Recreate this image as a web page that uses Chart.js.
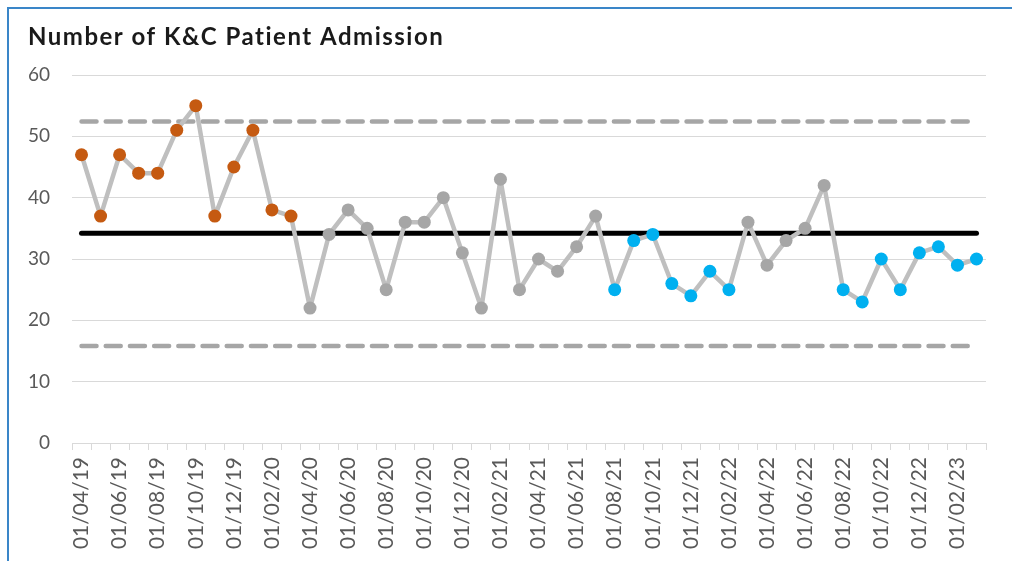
<!DOCTYPE html>
<html>
<head>
<meta charset="utf-8">
<title>Number of K&amp;C Patient Admission</title>
<script src="https://cdn.jsdelivr.net/npm/chart.js@4/dist/chart.umd.min.js"></script>
<style>
  html, body { margin: 0; padding: 0; background: #ffffff; }
  #wrap { position: relative; width: 1012px; height: 561px; overflow: hidden; }
  #frame {
    position: absolute; left: 7px; top: 7px; width: 1020px; height: 570px;
    border-top: 2px solid #3a86c8; border-left: 2px solid #3a86c8;
    pointer-events: none;
  }
  canvas { position: absolute; left: 0; top: 0; }
</style>
</head>
<body>
<div id="wrap">
  <canvas id="chart" width="1012" height="561"></canvas>
  <div id="frame"></div>
</div>
<script>
// Monthly admissions, April 2019 to March 2023
const months = [
  '01/04/19','01/05/19','01/06/19','01/07/19','01/08/19','01/09/19','01/10/19','01/11/19','01/12/19','01/01/20','01/02/20','01/03/20',
  '01/04/20','01/05/20','01/06/20','01/07/20','01/08/20','01/09/20','01/10/20','01/11/20','01/12/20','01/01/21','01/02/21','01/03/21',
  '01/04/21','01/05/21','01/06/21','01/07/21','01/08/21','01/09/21','01/10/21','01/11/21','01/12/21','01/01/22','01/02/22','01/03/22',
  '01/04/22','01/05/22','01/06/22','01/07/22','01/08/22','01/09/22','01/10/22','01/11/22','01/12/22','01/01/23','01/02/23','01/03/23'
];
const admissions = [
  47, 37, 47, 44, 44, 51, 55, 37, 45, 51, 38, 37,
  22, 34, 38, 35, 25, 36, 36, 40, 31, 22, 43, 25,
  30, 28, 32, 37, 25, 33, 34, 26, 24, 28, 25, 36,
  29, 33, 35, 42, 25, 23, 30, 25, 31, 32, 29, 30
];
// Run signals: 'H' = run above the mean, 'L' = run below the mean, '' = none
const signals = [
  'H','H','H','H','H','H','H','H','H','H','H','H',
  '', '', '', '', '', '', '', '', '', '', '', '',
  '', '', '', '', 'L','L','L','L','L','L','L','',
  '', '', '', '', 'L','L','L','L','L','L','L','L'
];
const meanValue = 34.2;
const upperLimit = 52.4;
const lowerLimit = 15.8;
const yTicks = [0, 10, 20, 30, 40, 50, 60];

const signalColours = { H: '#c55a11', L: '#00b0f0', '': '#a6a6a6' };
const flat = v => months.map(() => v);

const titlePlugin = {
  id: 'chartHeading',
  afterDraw(chart) {
    const ctx = chart.ctx;
    ctx.save();
    ctx.font = 'bold 24px Lato, "Open Sans", sans-serif';
    if ('letterSpacing' in ctx) ctx.letterSpacing = '1.5px';
    ctx.fillStyle = '#1a1a1a';
    ctx.textAlign = 'left';
    ctx.textBaseline = 'middle';
    ctx.fillText('Number of K&C Patient Admission', 28, 37);
    ctx.restore();
  }
};

new Chart(document.getElementById('chart'), {
  type: 'line',
  data: {
    labels: months,
    datasets: [
      {
        label: 'Upper limit', data: flat(upperLimit), borderColor: '#a6a6a6', borderWidth: 4.5,
        borderDash: [15, 9.2], borderCapStyle: 'round', pointRadius: 0, order: 4
      },
      {
        label: 'Lower limit', data: flat(lowerLimit), borderColor: '#a6a6a6', borderWidth: 4.5,
        borderDash: [15, 9.2], borderCapStyle: 'round', pointRadius: 0, order: 3
      },
      {
        label: 'Mean', data: flat(meanValue), borderColor: '#000000', borderWidth: 5,
        borderCapStyle: 'round', pointRadius: 0, order: 2
      },
      {
        label: 'Admissions', data: admissions, borderColor: '#bfbfbf', borderWidth: 4.5,
        borderJoinStyle: 'round', tension: 0,
        pointRadius: 6.5, pointBorderWidth: 0,
        pointBackgroundColor: signals.map(s => signalColours[s]),
        pointBorderColor: signals.map(s => signalColours[s]),
        order: 1
      }
    ]
  },
  options: {
    responsive: false,
    animation: false,
    devicePixelRatio: 1,
    layout: { padding: { left: 0, right: 26, top: 75, bottom: 0 } },
    plugins: { legend: { display: false }, tooltip: { enabled: false }, title: { display: false } },
    scales: {
      x: {
        type: 'category',
        offset: true,
        grid: { offset: true, drawOnChartArea: false, drawTicks: true, tickLength: 7, color: '#d9d9d9', lineWidth: 1 },
        border: { display: true, color: '#d9d9d9', width: 1 },
        ticks: {
          autoSkip: false, minRotation: 90, maxRotation: 90, padding: 7,
          color: '#595959', font: { family: 'Lato, "Open Sans", sans-serif', size: 21 },
          callback: (v, i) => (i % 2 === 0 ? months[i] : '')
        },
        afterFit(scale) { scale.height = 118; }
      },
      y: {
        min: 0, max: 60,
        afterBuildTicks(scale) { scale.ticks = yTicks.map(v => ({ value: v })); },
        grid: { color: '#d9d9d9', lineWidth: 1, drawTicks: false },
        border: { display: false },
        ticks: { padding: 22, color: '#595959', font: { family: 'Lato, "Open Sans", sans-serif', size: 19 } },
        afterFit(scale) { scale.width = 72; }
      }
    }
  },
  plugins: [titlePlugin]
});
</script>
</body>
</html>
